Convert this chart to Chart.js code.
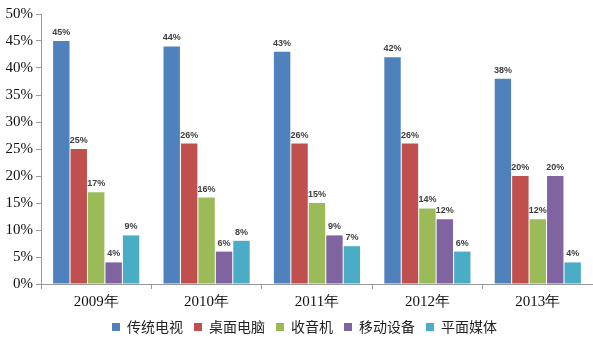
<!DOCTYPE html>
<html>
<head>
<meta charset="utf-8">
<script src="https://cdn.jsdelivr.net/npm/chart.js@4/dist/chart.umd.min.js"></script>
<style>
  html, body { margin: 0; padding: 0; background: #fff; }
  #wrap { width: 593px; height: 339px; position: relative; }
</style>
</head>
<body>
<div id="wrap"><canvas id="c" width="593" height="339"></canvas></div>
<script>
// Media usage share by year
const categories = ['2009年', '2010年', '2011年', '2012年', '2013年'];
const seriesNames = ['传统电视', '桌面电脑', '收音机', '移动设备', '平面媒体'];
const tv      = [45, 44, 43, 42, 38];
const desktop = [25, 26, 26, 26, 20];
const radio   = [17, 16, 15, 14, 12];
const mobile  = [4, 6, 9, 12, 20];
const print   = [9, 8, 7, 6, 4];
const yTicks  = [0, 5, 10, 15, 20, 25, 30, 35, 40, 45, 50];

const colors = ['#4F81BD', '#C0504D', '#9BBB59', '#8064A2', '#4BACC6'];
const values = [tv, desktop, radio, mobile, print];

// Writes each bar's value above it
const valueLabels = {
  id: 'valueLabels',
  afterDatasetsDraw(chart) {
    const ctx = chart.ctx;
    ctx.save();
    ctx.font = 'bold 9px "Liberation Sans", Arial, sans-serif';
    ctx.fillStyle = '#404040';
    ctx.textAlign = 'center';
    ctx.textBaseline = 'bottom';
    chart.data.datasets.forEach((ds, i) => {
      chart.getDatasetMeta(i).data.forEach((bar, j) => {
        ctx.fillText(ds.data[j] + '%', bar.x, bar.y - 4);
      });
    });
    ctx.restore();
  }
};

// Nudges the legend row a little to the right
const legendShift = {
  id: 'legendShift',
  afterLayout(chart) {
    if (chart.legend) {
      chart.legend.left += 8;
      chart.legend.right += 8;
    }
  }
};

new Chart(document.getElementById('c'), {
  type: 'bar',
  data: {
    labels: categories,
    datasets: seriesNames.map((name, i) => ({
      label: name,
      data: values[i],
      backgroundColor: colors[i],
      borderWidth: 0,
      categoryPercentage: 0.79,
      barPercentage: 0.94
    }))
  },
  options: {
    responsive: false,
    animation: false,
    layout: { padding: { top: 14, right: 0, left: 0, bottom: -5 } },
    plugins: {
      tooltip: { enabled: false },
      legend: {
        position: 'bottom',
        labels: {
          boxWidth: 8,
          boxHeight: 8,
          padding: 11,
          color: '#222',
          font: { family: '"Noto Sans CJK SC", sans-serif', size: 14 }
        }
      }
    },
    scales: {
      x: {
        afterFit(scale) { scale.height = scale.height - 6; },
        grid: { drawOnChartArea: false, color: '#999', tickLength: 5, offset: true },
        border: { color: '#999' },
        ticks: {
          color: '#111',
          padding: 4,
          font: { family: '"Liberation Serif", serif', size: 15 }
        }
      },
      y: {
        min: 0,
        max: 50,
        afterFit(scale) { scale.width = 41; },
        afterBuildTicks(scale) { scale.ticks = yTicks.map(v => ({ value: v })); },
        grid: { drawOnChartArea: false, color: '#999', tickLength: 5 },
        border: { color: '#999' },
        ticks: {
          color: '#111',
          padding: 3,
          font: { family: '"Liberation Serif", serif', size: 15 },
          callback: v => v + '%'
        }
      }
    }
  },
  plugins: [valueLabels, legendShift]
});
</script>
</body>
</html>
